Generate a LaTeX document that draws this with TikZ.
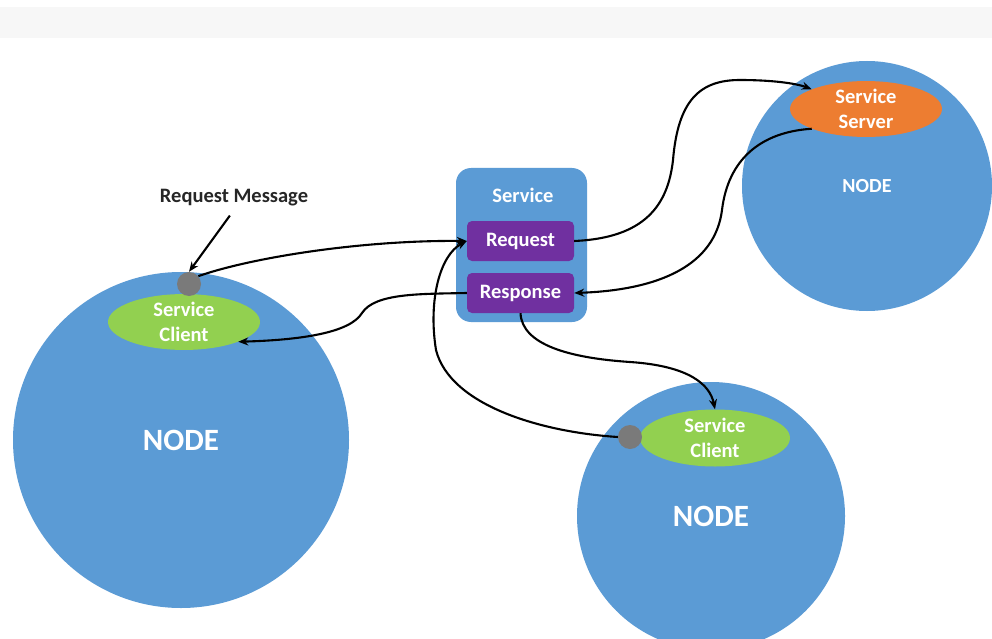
\documentclass[tikz,border=0pt]{standalone}
\usepackage{fontspec}
\setmainfont{Carlito}
\usetikzlibrary{arrows.meta,shapes.geometric}
\definecolor{nodeblue}{HTML}{5B9BD5}
\definecolor{srvpurple}{HTML}{7030A0}
\definecolor{cligreen}{HTML}{92D050}
\definecolor{srvorange}{HTML}{ED7D31}
\definecolor{dotgray}{HTML}{7A7A7A}
\definecolor{bandgray}{HTML}{F7F7F7}
\tikzset{
  bignode/.style={circle,fill=nodeblue,inner sep=0pt,text=white,font=\bfseries\fontsize{31}{36}\selectfont},
  pill/.style={ellipse,inner sep=0pt,text=white,align=center,font=\bfseries\fontsize{20.5}{25}\selectfont},
  msgbox/.style={rounded corners=5pt,fill=srvpurple,minimum width=107pt,minimum height=40pt,inner sep=0pt,text=white,font=\bfseries\fontsize{20.5}{24}\selectfont},
  port/.style={circle,fill=dotgray,minimum size=24pt,inner sep=0pt},
  arr/.style={draw=black,line width=2.1pt,-{Stealth[length=10pt,width=8pt]}},
  lbl/.style={font=\bfseries\fontsize{20.5}{24}\selectfont,text=black!85}
}
\begin{document}
\begin{tikzpicture}[x=1pt,y=-1pt]
\useasboundingbox (0,0) rectangle (992,639);
\clip (0,0) rectangle (992,639);
\fill[white] (0,0) rectangle (992,639);
\fill[bandgray] (0,7) rectangle (992,38);
% nodes (circles)
\node[bignode,minimum size=336pt] (NL) at (181,440) {NODE};
\node[bignode,minimum size=250pt,font=\bfseries\fontsize{20}{24}\selectfont] (NT) at (867,186) {NODE};
\node[bignode,minimum size=268pt] (NB) at (711,516) {NODE};
% service box
\node[fill=nodeblue,rounded corners=15pt,minimum width=131pt,minimum height=154pt,inner sep=0pt] (SV) at (521.5,245) {};
\node[text=white,font=\bfseries\fontsize{20.5}{24}\selectfont] (svt) at (523,195) {Service};
\node[msgbox] (req) at (520.5,241) {Request};
\node[msgbox] (resp) at (520.5,293) {Response};
% ellipses
\node[pill,fill=srvorange,minimum width=152pt,minimum height=51pt] (srv) at (866,109) {Service\\Server};
\node[pill,fill=cligreen,minimum width=152pt,minimum height=55pt] (cL) at (184,322) {Service\\Client};
\node[pill,fill=cligreen,minimum width=150pt,minimum height=57pt] (cB) at (715,438) {Service\\Client};
% ports
\node[port] (dL) at (189,284) {};
\node[port] (dB) at (630,437) {};
% label
\node[lbl] (msg) at (234,198) {Request Message};
% connectors
\draw[arr,shorten <=7pt] (msg.south) -- (dL.north);
\draw[arr] (dL.40) .. controls (250,258) and (360,240) .. (req.west);
\draw[arr] (dB.west) .. controls (540,432) and (450,405) .. (436,350) .. controls (428,300) and (440,255) .. (req.west);
\draw[arr] (req.east) .. controls (645,238) and (668,205) .. (673,160) .. controls (678,100) and (700,80) .. (740,80) .. controls (770,80) and (795,83) .. (srv.160);
\draw[arr] (srv.200) .. controls (760,132) and (728,160) .. (722,210) .. controls (715,265) and (660,290) .. (resp.east);
\draw[arr] (resp.west) .. controls (420,294) and (375,293) .. (362,313) .. controls (350,333) and (300,340) .. (cL.-20);
\draw[arr] (resp.south) .. controls (522,345) and (570,358) .. (630,362) .. controls (690,366) and (710,385) .. (cB.north);
\end{tikzpicture}
\end{document}
